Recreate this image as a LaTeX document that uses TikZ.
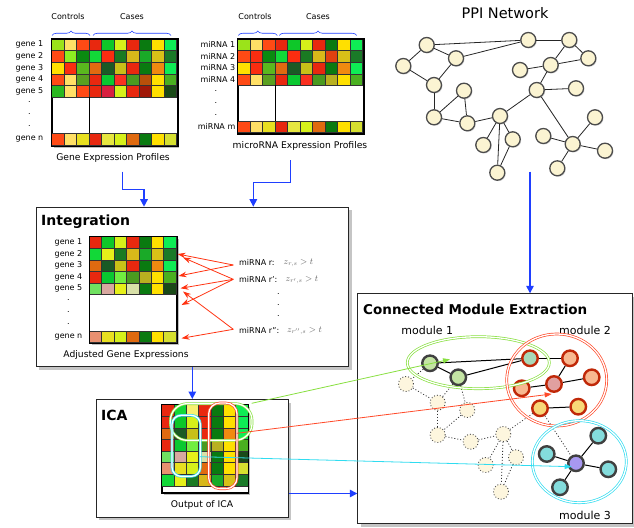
\documentclass[tikz,border=0pt]{standalone}
\usepackage{fontspec}
\setmainfont{DejaVu Sans}
\usetikzlibrary{arrows.meta,shadows,decorations.pathreplacing}
\definecolor{cR}{HTML}{E8280F}
\definecolor{cOR}{HTML}{FF4A15}
\definecolor{cRD}{HTML}{FA2D10}
\definecolor{cRR}{HTML}{FA3020}
\definecolor{cG}{HTML}{0EC729}
\definecolor{cBG}{HTML}{0EED55}
\definecolor{cDG}{HTML}{0A7A10}
\definecolor{cDGb}{HTML}{0A8A10}
\definecolor{cMG}{HTML}{1A7A22}
\definecolor{cMGb}{HTML}{1A7A28}
\definecolor{cLG}{HTML}{12D838}
\definecolor{cGG}{HTML}{1AAA28}
\definecolor{cGGb}{HTML}{2AB820}
\definecolor{cY}{HTML}{FFE000}
\definecolor{cLY}{HTML}{FFE066}
\definecolor{cLYb}{HTML}{F8F070}
\definecolor{cYG}{HTML}{D6F01A}
\definecolor{cYGb}{HTML}{E6F01A}
\definecolor{cYGc}{HTML}{D6E030}
\definecolor{cLM}{HTML}{9BE31A}
\definecolor{cLMb}{HTML}{8CF021}
\definecolor{cGD}{HTML}{D8B81A}
\definecolor{cGDb}{HTML}{D8C018}
\definecolor{cOL}{HTML}{C8C018}
\definecolor{cOLV}{HTML}{B8B020}
\definecolor{cORb}{HTML}{E06A10}
\definecolor{cORc}{HTML}{E04010}
\definecolor{cOA}{HTML}{F08A10}
\definecolor{cVDG}{HTML}{1A5A25}
\definecolor{cVVDG}{HTML}{1A4A18}
\definecolor{cGR}{HTML}{5AB81E}
\definecolor{cGRb}{HTML}{5AA020}
\definecolor{cGRc}{HTML}{4A9A20}
\definecolor{cGRd}{HTML}{4AB020}
\definecolor{cGRN}{HTML}{0AC830}
\definecolor{cBR}{HTML}{B8500A}
\definecolor{cCR}{HTML}{D82040}
\definecolor{cDR}{HTML}{A01808}
\definecolor{cYY}{HTML}{E8E020}
\definecolor{cYYb}{HTML}{E6E640}
\definecolor{cLGN}{HTML}{70EE40}
\definecolor{cLGP}{HTML}{70E060}
\definecolor{cPK}{HTML}{D8A8A0}
\definecolor{cPL}{HTML}{D8E0A8}
\definecolor{cSA}{HTML}{E89070}
\definecolor{myblue}{HTML}{1F3FFF}
\definecolor{myred}{HTML}{FF3311}
\definecolor{cream}{HTML}{FBF4D2}
\definecolor{dotcream}{HTML}{FDF6DE}
\definecolor{ngreen}{HTML}{C4E4A4}
\definecolor{norange}{HTML}{F8B890}
\definecolor{nteal}{HTML}{A8D8B8}
\definecolor{npink}{HTML}{E0A0A0}
\definecolor{nyellow}{HTML}{F8D878}
\definecolor{ncyan}{HTML}{84DCDC}
\definecolor{npurple}{HTML}{A898F0}
\definecolor{redborder}{HTML}{C02808}
\definecolor{lgreen}{HTML}{88E040}
\definecolor{lred}{HTML}{FF4A2A}
\definecolor{lcyan}{HTML}{30DCF0}
\newcommand{\hmrow}[5]{\foreach \cc [count=\ii from 0] in {#5}{\filldraw[fill=\cc,draw=black!80,line width=0.5pt] ({#1+\ii*#3},#2) rectangle ++(#3,#4);}}
\begin{document}
\begin{tikzpicture}[x=1pt,y=-1pt,
  lbl/.style={font=\fontsize{8}{9}\selectfont,inner sep=0pt},
  capt/.style={font=\fontsize{9.2}{10}\selectfont,inner sep=0pt},
  ttl/.style={font=\bfseries\fontsize{14}{16}\selectfont,inner sep=0pt,anchor=west},
  zlab/.style={inner sep=0pt,anchor=west,text=black!60,font=\fontsize{9}{10}\selectfont},
  panel/.style={draw=black!85,line width=1pt,fill=white,anchor=north west,inner sep=0pt,
     drop shadow={opacity=0.45,shadow xshift=3pt,shadow yshift=-3pt}},
  hframe/.style={draw=black,line width=1.5pt,fill=white,anchor=north west,inner sep=0pt,
     drop shadow={opacity=0.5,shadow xshift=2pt,shadow yshift=-2pt}},
  ppin/.style={circle,draw=black!70,line width=1.3pt,fill=cream,minimum size=15pt,inner sep=0pt,
     drop shadow={opacity=0.3,shadow xshift=1pt,shadow yshift=-1pt}},
  modn/.style={circle,line width=2.4pt,minimum size=15.5pt,inner sep=0pt},
  gmod/.style={modn,draw=black!75,fill=ngreen},
  rmod/.style={modn,draw=redborder,fill=norange},
  cmod/.style={modn,draw=black!75,fill=ncyan},
  dotn/.style={circle,draw=black!70,dotted,line width=0.9pt,fill=dotcream,minimum size=15pt,inner sep=0pt},
  dotedge/.style={draw=black!80,line width=0.8pt,dash pattern=on 1pt off 2pt},
  bluearrow/.style={draw=myblue,line width=1.4pt,-{Triangle[width=7.5pt,length=7.5pt]}},
  redarrow/.style={draw=myred,line width=0.8pt,-{Stealth[width=5.5pt,length=8pt]}},
  bracestyle/.style={draw=myblue,line width=0.6pt,decorate,decoration={brace,amplitude=4.5pt}},
  modring/.style={line width=0.7pt,double=white,double distance=1.3pt}
]
\fill[white] (0,0) rectangle (634,527);
\useasboundingbox (0,0) rectangle (634,527);

% ---------------- Gene expression profiles
\node[lbl] (gctrl) at (68,17) {Controls};
\node[lbl] (gcase) at (132,17) {Cases};
\draw[bracestyle] (52,35.5) -- (90,35.5);
\draw[bracestyle] (93,35.5) -- (171,35.5);
\node[hframe,minimum width=125pt,minimum height=106pt] (ghm) at (51.7,39) {};
\hmrow{51.7}{39}{12.5}{11.6}{cLM,cLY,cOR,cR,cG,cYG,cR,cDG,cY,cBG}
\hmrow{51.7}{50.6}{12.5}{11.6}{cOR,cLMb,cDGb,cLG,cRD,cMG,cGD,cGG,cGDb,cMGb}
\hmrow{51.7}{62.2}{12.5}{11.6}{cY,cRD,cGR,cORb,cVDG,cOL,cR,cDG,cOA,cBG}
\hmrow{51.7}{73.8}{12.5}{11.6}{cOR,cLY,cGRb,cR,cGRN,cRR,cGRc,cBR,cY,cGRd}
\hmrow{51.7}{85.4}{12.5}{11.6}{cGGb,cLY,cOR,cR,cCR,cYG,cR,cDR,cY,cVVDG}
\hmrow{51.7}{133.4}{12.5}{11.6}{cOR,cLY,cYY,cR,cYYb,cYG,cORb,cDG,cY,cYGc}
\draw[line width=1pt] (89.2,97) -- (89.2,133.4);
\draw[line width=1.5pt] (ghm.north west) rectangle (ghm.south east);
\node[lbl,anchor=east] (g1) at (43.5,44.8) {gene 1};
\node[lbl,anchor=east] (g2) at (43.5,56.4) {gene 2};
\node[lbl,anchor=east] (g3) at (43.5,68) {gene 3};
\node[lbl,anchor=east] (g4) at (43.5,79.6) {gene 4};
\node[lbl,anchor=east] (g5) at (43.5,91.2) {gene 5};
\node[lbl] (gd1) at (29.5,102) {.};
\node[lbl] (gd2) at (29.5,114) {.};
\node[lbl] (gd3) at (29.5,126) {.};
\node[lbl,anchor=east] (gn) at (43.5,139.2) {gene n};
\node[capt] (gcap) at (113,158) {Gene Expression Profiles};

% ---------------- microRNA profiles
\node[lbl] (mctrl) at (255,17) {Controls};
\node[lbl] (mcase) at (318,17) {Cases};
\draw[bracestyle] (238.3,35.5) -- (277.3,35.5);
\draw[bracestyle] (279.3,35.5) -- (356.7,35.5);
\node[hframe,minimum width=125pt,minimum height=93.6pt] (mhm) at (237.7,39) {};
\hmrow{237.7}{39}{12.5}{11.6}{cLM,cLY,cOR,cR,cG,cYG,cR,cDG,cY,cBG}
\hmrow{237.7}{50.6}{12.5}{11.6}{cOR,cRD,cDGb,cLG,cRD,cMG,cGD,cORc,cGDb,cMGb}
\hmrow{237.7}{62.2}{12.5}{11.6}{cY,cRD,cGR,cORb,cVDG,cOL,cR,cDG,cOA,cBG}
\hmrow{237.7}{73.8}{12.5}{11.6}{cOR,cLY,cGRb,cR,cGRN,cRR,cGRc,cOLV,cY,cGRd}
\hmrow{237.7}{121}{12.5}{11.6}{cOR,cLY,cYY,cR,cYYb,cYG,cORb,cDG,cY,cYGc}
\draw[line width=1pt] (275.2,85.4) -- (275.2,121);
\draw[line width=1.5pt] (mhm.north west) rectangle (mhm.south east);
\node[lbl,anchor=east] (r1) at (235.5,44.8) {miRNA 1};
\node[lbl,anchor=east] (r2) at (235.5,56.4) {miRNA 2};
\node[lbl,anchor=east] (r3) at (235.5,68) {miRNA 3};
\node[lbl,anchor=east] (r4) at (235.5,79.6) {miRNA 4};
\node[lbl] (rd1) at (216,91) {.};
\node[lbl] (rd2) at (216,103) {.};
\node[lbl] (rd3) at (216,115) {.};
\node[lbl,anchor=east] (rm) at (235.5,126.8) {miRNA m};
\node[capt] (mcap) at (300,145.7) {microRNA Expression Profiles};

% ---------------- PPI network
\node[font=\fontsize{14.5}{16}\selectfont,inner sep=0pt] (ppit) at (505,12.7) {PPI Network};
\foreach \n/\x/\y in {1/426.7/45,2/403.3/66,3/456/58.3,4/434/85,5/528.3/40,6/569.3/40,7/588.3/58.3,
  8/550.7/65,9/520/70,10/536.7/90,11/576/88.3,12/464/90.7,13/434/117.3,14/467.3/123.3,15/500/116,
  16/483.3/145,17/512.7/139.3,18/497.3/172.7,19/543.3/136,20/572.7/144,21/595/117.3,22/605/150.7,23/557.3/168.3}
  {\node[ppin] (p\n) at (\x,\y) {};}
\foreach \a/\b in {1/3,1/5,3/5,1/2,2/4,3/4,4/13,13/12,13/14,12/14,14/15,15/16,15/18,15/17,17/18,
  15/10,10/11,10/20,10/8,8/9,8/6,6/7,7/8,5/6,19/20,20/21,20/22,20/23}
  {\draw[black!85,line width=0.8pt] (p\a) -- (p\b);}

% ---------------- Integration panel
\node[panel,minimum width=312.3pt,minimum height=159.3pt] (integ) at (35.7,206.7) {};
\node[ttl] (integt) at (41,222) {Integration};
\node[hframe,line width=1pt,minimum width=86.8pt,minimum height=105.9pt] (ihm) at (89.3,236.7) {};
\hmrow{89.3}{236.7}{12.4}{11.6}{cR,cG,cYG,cR,cDG,cY,cBG}
\hmrow{89.3}{248.3}{12.4}{11.6}{cLG,cYGb,cMG,cGD,cGG,cGDb,cMGb}
\hmrow{89.3}{259.9}{12.4}{11.6}{cORb,cVDG,cOL,cR,cDG,cOA,cBG}
\hmrow{89.3}{271.5}{12.4}{11.6}{cR,cGRN,cLGN,cGRc,cOLV,cY,cGRd}
\hmrow{89.3}{283.1}{12.4}{11.6}{cLGP,cPK,cYGb,cPL,cDG,cY,cVVDG}
\hmrow{89.3}{331}{12.4}{11.6}{cSA,cYY,cYG,cORb,cDG,cY,cYGc}
\draw[line width=1pt] (ihm.north west) rectangle (ihm.south east);
\node[lbl,anchor=east] (ig1) at (82.5,242.5) {gene 1};
\node[lbl,anchor=east] (ig2) at (82.5,254.1) {gene 2};
\node[lbl,anchor=east] (ig3) at (82.5,265.7) {gene 3};
\node[lbl,anchor=east] (ig4) at (82.5,277.3) {gene 4};
\node[lbl,anchor=east] (ig5) at (82.5,288.9) {gene 5};
\node[lbl] (igd1) at (68.3,300) {.};
\node[lbl] (igd2) at (68.3,312) {.};
\node[lbl] (igd3) at (68.3,324) {.};
\node[lbl,anchor=east] (ign) at (82.5,336.8) {gene n};
\node[capt] (icap) at (126,355) {Adjusted Gene Expressions};
\node[lbl,anchor=west] (mr1) at (239,262.7) {miRNA r:};
\node[lbl,anchor=west] (mr2) at (239,279.3) {miRNA r':};
\node[lbl,anchor=west] (mr3) at (239,330) {miRNA r'':};
\node[zlab] (z1) at (283.5,263.3) {$z_{r,s}>t$};
\node[zlab] (z2) at (285.5,280) {$z_{r',s}>t$};
\node[zlab] (z3) at (287,330.6) {$z_{r'',s}>t$};
\node[lbl] (md1) at (278.5,294) {.};
\node[lbl] (md2) at (278.5,305) {.};
\node[lbl] (md3) at (278.5,316) {.};
\coordinate (s1) at (233.3,265);
\coordinate (s2) at (233.3,279.3);
\coordinate (s3) at (233.3,329.3);
\coordinate (t1) at (177.5,254);
\coordinate (t2) at (178.5,276);
\coordinate (t3) at (183,257.5);
\coordinate (t4) at (180.5,288.3);
\coordinate (t5) at (181.5,305);
\coordinate (t6) at (183,291.5);
\coordinate (t7) at (181.5,338.3);
\draw[redarrow] (s1) -- (t1);
\draw[redarrow] (s1) -- (t2);
\draw[redarrow] (s2) -- (t3);
\draw[redarrow] (s2) -- (t4);
\draw[redarrow] (s2) -- (t5);
\draw[redarrow] (s3) -- (t6);
\draw[redarrow] (s3) -- (t7);

% ---------------- ICA panel
\node[panel,minimum width=192pt,minimum height=117.7pt] (ica) at (95.7,399) {};
\node[ttl] (icat) at (101,415) {ICA};
\node[hframe,line width=1pt,minimum width=86.1pt,minimum height=87.6pt] (chm) at (161.7,404.7) {};
\hmrow{161.7}{404.7}{12.3}{11.6}{cR,cLG,cLYb,cR,cDG,cY,cBG}
\hmrow{161.7}{416.3}{12.3}{11.6}{cR,cG,cYG,cR,cDG,cY,cBG}
\hmrow{161.7}{427.9}{12.3}{11.6}{cORb,cVDG,cOL,cR,cDG,cOA,cBG}
\hmrow{161.7}{439.5}{12.3}{11.6}{cR,cGRN,cLGN,cGRc,cOLV,cY,cGRd}
\hmrow{161.7}{451.1}{12.3}{11.6}{cLGP,cPK,cYGb,cPL,cDG,cY,cVVDG}
\hmrow{161.7}{462.7}{12.3}{11.6}{cSA,cYY,cYG,cORb,cDG,cY,cYGc}
\hmrow{161.7}{474.3}{12.3}{11.6}{cLG,cYGb,cMG,cGD,cGG,cGDb,cMGb}
\draw[line width=1pt] (chm.north west) rectangle (chm.south east);
\node[capt] (ccap) at (202,505) {Output of ICA};
\node[draw=lgreen,modring,rounded corners=17pt,minimum width=81.7pt,minimum height=36.7pt,anchor=north west,inner sep=0pt] (icaG) at (170,403.3) {};
\node[draw=lred,modring,rounded corners=11pt,minimum width=28.4pt,minimum height=85.6pt,anchor=north west,inner sep=0pt] (icaR) at (208.3,402.7) {};
\node[draw=lcyan,modring,rounded corners=9pt,minimum width=28.3pt,minimum height=61pt,anchor=north west,inner sep=0pt] (icaC) at (171.7,415) {};

% ---------------- Connected Module Extraction panel
\node[panel,minimum width=274.4pt,minimum height=230pt] (cme) at (357.3,293.3) {};
\node[ttl,font=\bfseries\fontsize{13.5}{15}\selectfont] (cmet) at (363,309) {Connected Module Extraction};
\node[font=\fontsize{11}{12}\selectfont,inner sep=0pt] (lab1) at (427.3,330) {module 1};
\node[font=\fontsize{11}{12}\selectfont,inner sep=0pt] (lab2) at (585,330) {module 2};
\node[font=\fontsize{11}{12}\selectfont,inner sep=0pt] (lab3) at (585,515) {module 3};
% faded nodes
\foreach \n/\x/\y in {1/406/384,2/437.7/402.7,3/467.3/410,4/437.7/435,5/470.7/441.7,6/503.3/434,7/485.7/465,8/516/457.3,9/501/491.7}
  {\node[dotn] (q\n) at (\x,\y) {};}
% module nodes
\node[gmod] (ma) at (430,363.3) {};
\node[gmod] (mb) at (458.3,377.3) {};
\node[rmod,fill=nteal] (mc) at (530,358.3) {};
\node[rmod] (md) at (570,358.3) {};
\node[rmod] (me) at (591.7,377.3) {};
\node[rmod,fill=npink] (mf) at (554,384) {};
\node[rmod] (mg) at (521.7,388.3) {};
\node[rmod,fill=nyellow] (mh) at (540,408.3) {};
\node[rmod,fill=nyellow] (mi) at (578.3,406.7) {};
\node[cmod] (mj) at (598.3,435.7) {};
\node[cmod] (mk) at (546.7,454) {};
\node[cmod,fill=npurple] (ml) at (576,463.3) {};
\node[cmod] (mm) at (608.3,469.3) {};
\node[cmod] (mn) at (560,487.3) {};
\foreach \a/\b in {ma/q1,q1/q2,q2/mb,mb/q3,q2/q4,q3/q4,q4/q5,q5/q6,q6/mh,q6/q7,q6/q8,q6/q9,q8/q9,mh/ml}
  {\draw[dotedge] (\a) -- (\b);}
\foreach \a/\b in {ma/mb,ma/mc,mb/mc,mc/md,md/mf,mf/me,mg/mf,mh/mi,mj/ml,mk/ml,ml/mm,ml/mn}
  {\draw[black,line width=1pt] (\a) -- (\b);}
\draw[draw=lgreen,modring] (478.3,362.7) ellipse [x radius=71pt,y radius=26pt];
\draw[draw=lred,modring] (556.7,380) ellipse [x radius=50pt,y radius=46pt];
\draw[draw=lcyan,modring] (579.3,461.7) ellipse [x radius=47pt,y radius=41pt];

% ---------------- long connectors
\coordinate (gS) at (251.7,403.3);
\coordinate (gE) at (450,359.3);
\coordinate (rS) at (236.7,433.3);
\coordinate (rE) at (551.7,394);
\coordinate (cS) at (200,456.7);
\coordinate (cE) at (571.7,466.7);
\draw[lgreen,line width=0.8pt,-{Triangle[width=5pt,length=7pt]}] (gS) -- (gE);
\draw[lred,line width=0.8pt,-{Triangle[width=5pt,length=7pt]}] (rS) -- (rE);
\draw[lcyan,line width=0.8pt,-{Triangle[width=5pt,length=7pt]}] (cS) -- (cE);

% ---------------- blue flow arrows
\coordinate (b1s) at (122.7,171.7);
\coordinate (b1m) at (144,189.3);
\coordinate (b2s) at (290.7,160);
\coordinate (b2m) at (253.3,182.7);
\draw[bluearrow] (b1s) |- (b1m) -- (b1m |- integ.north);
\draw[bluearrow] (b2s) |- (b2m) -- (b2m |- integ.north);
\coordinate (b3) at (192.3,366.5);
\draw[bluearrow] (b3) -- (b3 |- ica.north);
\coordinate (b4) at (288.5,493.5);
\draw[bluearrow] (b4) -- (b4 -| cme.west);
\coordinate (b5) at (530,171.7);
\draw[bluearrow] (b5) -- (b5 |- cme.north);
\end{tikzpicture}
\end{document}
